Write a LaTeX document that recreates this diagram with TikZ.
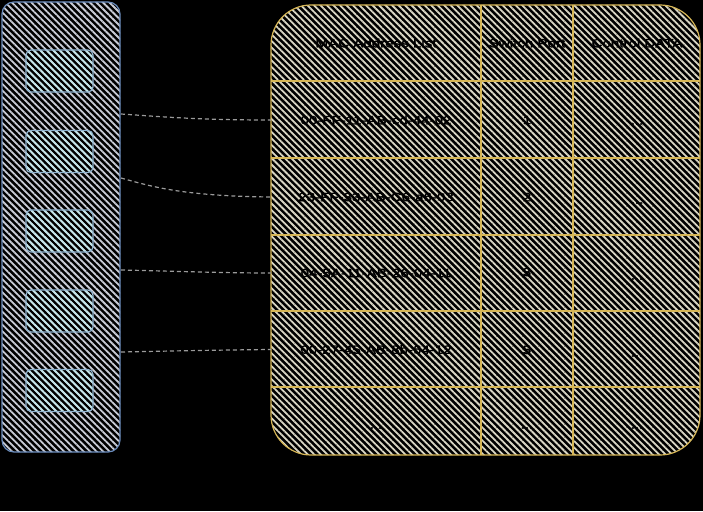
\documentclass[tikz,border=0pt]{standalone}
\usepackage{fontspec}
\newfontfamily\sk[FakeStretch=1.26,FakeBold=2]{Liberation Sans}
\usetikzlibrary{patterns.meta}
\definecolor{panelline}{HTML}{6C8EBF}
\definecolor{panelhatch}{HTML}{C9CCD6}
\definecolor{boxline}{HTML}{8FB3CF}
\definecolor{boxhatch}{HTML}{C4E6EA}
\definecolor{tabline}{HTML}{D6B656}
\definecolor{tabhatch}{HTML}{D9D6C4}
\definecolor{conncol}{HTML}{9A9A9A}
\tikzset{
  panel/.style={draw=panelline, line width=1.2pt, rounded corners=12pt,
    pattern={Lines[angle=-45,distance=4.6pt,line width=1.8pt]}, pattern color=panelhatch,
    inner sep=0pt, outer sep=0pt},
  hostbox/.style={draw=boxline, line width=1.2pt, rounded corners=5pt,
    pattern={Lines[angle=-45,distance=4.6pt,line width=1.8pt]}, pattern color=boxhatch,
    minimum width=67pt, minimum height=42pt, inner sep=0pt, outer sep=0pt},
  tabshape/.style={draw=tabline, line width=1.2pt, rounded corners=40pt,
    pattern={Lines[angle=-45,distance=4.6pt,line width=1.8pt]}, pattern color=tabhatch,
    inner sep=0pt, outer sep=0pt},
  grid/.style={draw=tabline, line width=1.2pt},
  cell/.style={inner sep=0pt, outer sep=0pt, text=black, font=\fontsize{12}{14}\sk},
  conn/.style={draw=conncol, line width=1.2pt, dash pattern=on 4pt off 3pt}
}
\begin{document}
\begin{tikzpicture}[x=1pt,y=-1pt]
\fill[black] (0,0) rectangle (703,511);
\useasboundingbox (0,0) rectangle (703,511);
% left panel
\node[panel, minimum width=118pt, minimum height=450pt] (L) at (61,227) {};
\node[hostbox] (h1) at (59.5,71) {};
\node[hostbox] (h2) at (59.5,151.5) {};
\node[hostbox] (h3) at (59.5,231) {};
\node[hostbox] (h4) at (59.5,311) {};
\node[hostbox] (h5) at (59.5,390.5) {};
% table
\node[tabshape, minimum width=429pt, minimum height=450pt] (T) at (485.5,230) {};
\draw[grid] (481,5) -- (481,455);
\draw[grid] (573,5) -- (573,455);
\draw[grid] (271,81) -- (700,81);
\draw[grid] (271,158) -- (700,158);
\draw[grid] (271,235) -- (700,235);
\draw[grid] (271,311) -- (700,311);
\draw[grid] (271,387) -- (700,387);
% header
\node[cell, minimum width=210pt, minimum height=76pt] (c01) at (376,43) {MAC Address List};
\node[cell] (c02) at (527,43) {Switch Port};
\node[cell] (c03) at (637,43) {Control DATA};
% rows
\node[cell, minimum width=210pt, minimum height=77pt] (c11) at (376,120) {00-FF-11-AB-cd-44-02};
\node[cell] (c12) at (527,120) {1};
\node[cell] (c13) at (637,124) {...};
\node[cell, minimum width=210pt, minimum height=77pt] (c21) at (376,197) {23-FF-33-AB-C6-a6-03};
\node[cell] (c22) at (527,197) {2};
\node[cell] (c23) at (637,203) {...};
\node[cell, minimum width=210pt, minimum height=76pt] (c31) at (376,273) {04-5A-11-AB-26-04-11};
\node[cell] (c32) at (527,272) {3};
\node[cell] (c33) at (637,279) {...};
\node[cell, minimum width=210pt, minimum height=76pt] (c41) at (376,349.5) {00-27-45-AB-8b-64-12};
\node[cell] (c42) at (527,350) {5};
\node[cell] (c43) at (637,356) {...};
\node[cell] (c51) at (376,428) {...};
\node[cell] (c52) at (527,428) {...};
\node[cell] (c53) at (637,428) {...};
% connectors
\coordinate (s1) at (121,114);
\coordinate (s2) at (121,178);
\coordinate (s3) at (121,270);
\coordinate (s4) at (121,352);
\draw[conn] (s1) .. controls (165,117) and (200,120) .. (c11.west);
\draw[conn] (s2) .. controls (150,186) and (180,196) .. (c21.west);
\draw[conn] (s3) .. controls (170,271) and (220,273) .. (c31.west);
\draw[conn] (s4) .. controls (170,351) and (220,350) .. (c41.west);
\end{tikzpicture}
\end{document}
